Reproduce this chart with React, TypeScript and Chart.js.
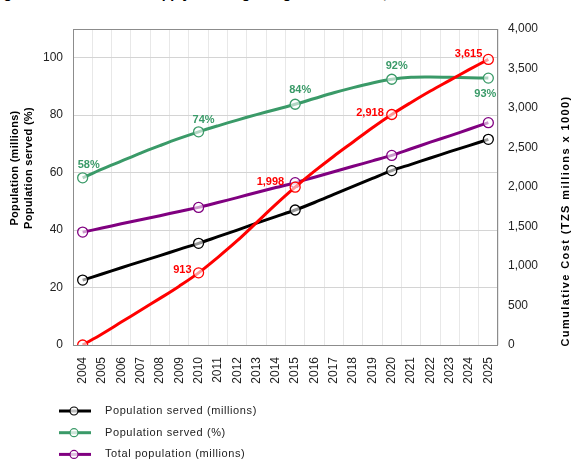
import React, { useEffect, useRef } from 'react';
import { Chart, registerables } from 'chart.js';

Chart.register(...registerables);

const years = ['2004', '2005', '2006', '2007', '2008', '2009', '2010', '2011', '2012', '2013', '2014', '2015', '2016', '2017', '2018', '2019', '2020', '2021', '2022', '2023', '2024', '2025'];
const popServedMillions = [22.6, 24.7, 26.9, 29.0, 31.1, 33.3, 35.4, 37.7, 40.0, 42.4, 44.7, 47.0, 49.6, 52.4, 55.2, 58.0, 60.7, 62.9, 65.1, 67.3, 69.4, 71.6];
const popServedPct = [58.2, 61.2, 64.0, 66.8, 69.4, 71.9, 74.2, 76.3, 78.3, 80.2, 82.0, 83.8, 85.8, 87.8, 89.6, 91.2, 92.5, 93.2, 93.3, 93.2, 93.0, 92.9];
const totalPopMillions = [39.3, 40.7, 42.2, 43.6, 45.0, 46.5, 47.9, 49.6, 51.3, 53.1, 54.8, 56.5, 58.4, 60.3, 62.2, 64.1, 66.0, 68.3, 70.6, 72.8, 75.1, 77.4];
const cumulativeCost = [0, 140, 290, 440, 590, 745, 913, 1110, 1320, 1550, 1780, 1998, 2200, 2390, 2570, 2750, 2918, 3070, 3215, 3350, 3485, 3615];
const markerYears = ['2004', '2010', '2015', '2020', '2025'];
const pctLabels = ['58%', '74%', '84%', '92%', '93%'];
const costLabels = ['', '913', '1,998', '2,918', '3,615'];
const leftTicks = [0, 20, 40, 60, 80, 100];
const seriesNames = ['Population served (millions)', 'Population served (%)', 'Total population (millions)', 'Cumulative cost (TZS millions x 1000)'];
const leftTitle = ['Population (millions)', 'Population served (%)'];
const rightTitle = 'Cumulative Cost (TZS millions x 1000)';

const FONT = '"Liberation Sans", Arial, sans-serif';
const GREEN = '#3a9a68';
const RED = '#ff0000';
const PURPLE = '#800080';
const BLACK = '#000000';

const markerRadius = years.map((y) => (markerYears.includes(y) ? 5 : 0));

const pctOffsets: [number, number][] = [[6, -13], [5, -12], [5, -14], [5, -13], [-3, 16]];
const costOffsets: [number, number][] = [[0, 0], [-7, -3], [-11, -5], [-8, -2], [-6, -5]];

const decorPlugin = {
  id: 'decor',
  afterDatasetsDraw(chart: any) {
    const { ctx, chartArea } = chart;
    ctx.save();
    ctx.strokeStyle = '#8c8c8c';
    ctx.lineWidth = 1;
    ctx.strokeRect(Math.round(chartArea.left) + 0.5, Math.round(chartArea.top) + 0.5, Math.round(chartArea.right - chartArea.left) - 1, Math.round(chartArea.bottom - chartArea.top));

    ctx.font = `bold 11px ${FONT}`;
    ctx.textBaseline = 'middle';
    const greenMeta = chart.getDatasetMeta(1);
    const redMeta = chart.getDatasetMeta(3);
    markerYears.forEach((yr, i) => {
      const idx = years.indexOf(yr);
      const gp = greenMeta.data[idx];
      if (gp && pctLabels[i]) {
        ctx.fillStyle = GREEN;
        ctx.textAlign = 'center';
        ctx.fillText(pctLabels[i], gp.x + pctOffsets[i][0], gp.y + pctOffsets[i][1]);
      }
      const rp = redMeta.data[idx];
      if (rp && costLabels[i]) {
        ctx.fillStyle = RED;
        ctx.textAlign = 'right';
        ctx.fillText(costLabels[i], rp.x + costOffsets[i][0], rp.y + costOffsets[i][1]);
      }
    });
    ctx.restore();
  },
  afterDraw(chart: any) {
    const { ctx } = chart;
    ctx.save();
    ctx.fillStyle = '#000';
    ctx.font = `bold 11px ${FONT}`;
    ctx.textAlign = 'center';
    ctx.textBaseline = 'middle';
    const lx = [15, 29];
    leftTitle.forEach((t, i) => {
      ctx.save();
      ctx.translate(lx[i], 168);
      ctx.rotate(-Math.PI / 2);
      try { (ctx as any).letterSpacing = '0.3px'; } catch (e) {}
      ctx.fillText(t, 0, 0);
      ctx.restore();
    });
    ctx.save();
    ctx.translate(566, 221);
    ctx.rotate(-Math.PI / 2);
    try { (ctx as any).letterSpacing = '1.4px'; } catch (e) {}
    ctx.fillText(rightTitle, 0, 0);
    ctx.restore();

    chart.data.datasets.forEach((ds: any, i: number) => {
      const y = 411 + i * 21.7;
      ctx.strokeStyle = ds.borderColor;
      ctx.lineWidth = 3;
      ctx.beginPath();
      ctx.moveTo(59, y);
      ctx.lineTo(91, y);
      ctx.stroke();
      ctx.beginPath();
      ctx.arc(74, y, 4, 0, Math.PI * 2);
      ctx.fillStyle = 'rgba(255,255,255,0.75)';
      ctx.fill();
      ctx.lineWidth = 1.2;
      ctx.stroke();
      ctx.fillStyle = '#222';
      ctx.font = `11px ${FONT}`;
      ctx.textAlign = 'left';
      ctx.textBaseline = 'middle';
      try { (ctx as any).letterSpacing = '0.6px'; } catch (e) {}
      ctx.fillText(ds.label, 105, y);
      try { (ctx as any).letterSpacing = '0px'; } catch (e) {}
    });
    ctx.restore();
  },
};

function makeDataset(label: string, data: number[], color: string, axis: string, order: number) {
  return {
    label,
    data,
    borderColor: color,
    backgroundColor: color,
    borderWidth: 3,
    tension: 0.35,
    pointRadius: markerRadius,
    pointHoverRadius: markerRadius,
    pointBorderWidth: 1.3,
    pointBorderColor: color,
    pointBackgroundColor: 'rgba(255,255,255,0.6)',
    yAxisID: axis,
    order,
    fill: false,
  };
}

export default function App() {
  const canvasRef = useRef<HTMLCanvasElement | null>(null);

  useEffect(() => {
    document.body.style.margin = '0';
    const canvas = canvasRef.current;
    if (!canvas) return;
    const chart = new Chart(canvas, {
      type: 'line',
      data: {
        labels: years,
        datasets: [
          makeDataset(seriesNames[0], popServedMillions, BLACK, 'y', 2),
          makeDataset(seriesNames[1], popServedPct, GREEN, 'y', 3),
          makeDataset(seriesNames[2], totalPopMillions, PURPLE, 'y', 1),
          makeDataset(seriesNames[3], cumulativeCost, RED, 'y1', 0),
        ] as any,
      },
      options: {
        animation: false,
        responsive: false,
        maintainAspectRatio: false,
        layout: { padding: { top: 29, bottom: 61, left: 0, right: 0 } },
        plugins: {
          legend: { display: false },
          tooltip: { enabled: false },
          title: { display: false },
        },
        scales: {
          x: {
            type: 'category',
            offset: true,
            grid: { color: '#e8e8e8', drawTicks: false, offset: true },
            border: { display: false },
            ticks: {
              autoSkip: false,
              minRotation: 90,
              maxRotation: 90,
              padding: 12,
              color: '#222',
              font: { size: 12, family: FONT },
            },
            afterFit: (s: any) => { s.height = 55; },
          },
          y: {
            position: 'left',
            min: 0,
            max: 110,
            afterBuildTicks: (s: any) => { s.ticks = leftTicks.map((v) => ({ value: v })); },
            grid: { color: '#d4d4d4', drawTicks: false },
            border: { display: false },
            ticks: { padding: 10, color: '#222', font: { size: 12, family: FONT } },
            afterFit: (s: any) => { s.width = 73; },
          },
          y1: {
            position: 'right',
            min: 0,
            max: 4000,
            grid: { drawOnChartArea: false, drawTicks: false },
            border: { display: false },
            ticks: {
              stepSize: 500,
              padding: 10,
              color: '#222',
              font: { size: 12, family: FONT },
              callback: (v: any) => Number(v).toLocaleString('en-US'),
            },
            afterFit: (s: any) => { s.width = 74; },
          },
        },
      } as any,
      plugins: [decorPlugin],
    });
    return () => chart.destroy();
  }, []);

  return (
    <div style={{ position: 'relative', width: 572, height: 461, overflow: 'hidden', background: '#fff' }}>
      <div style={{ position: 'absolute', top: -15, left: -9, font: `bold 14px ${FONT}`, lineHeight: '16px', whiteSpace: 'nowrap', color: '#000' }}>
        Figure 12: Rural Water Supply Coverage Targets and Costs, 2004 - 2025
      </div>
      <canvas ref={canvasRef} width={572} height={461} style={{ position: 'absolute', left: 0, top: 0, display: 'block' }} />
    </div>
  );
}
